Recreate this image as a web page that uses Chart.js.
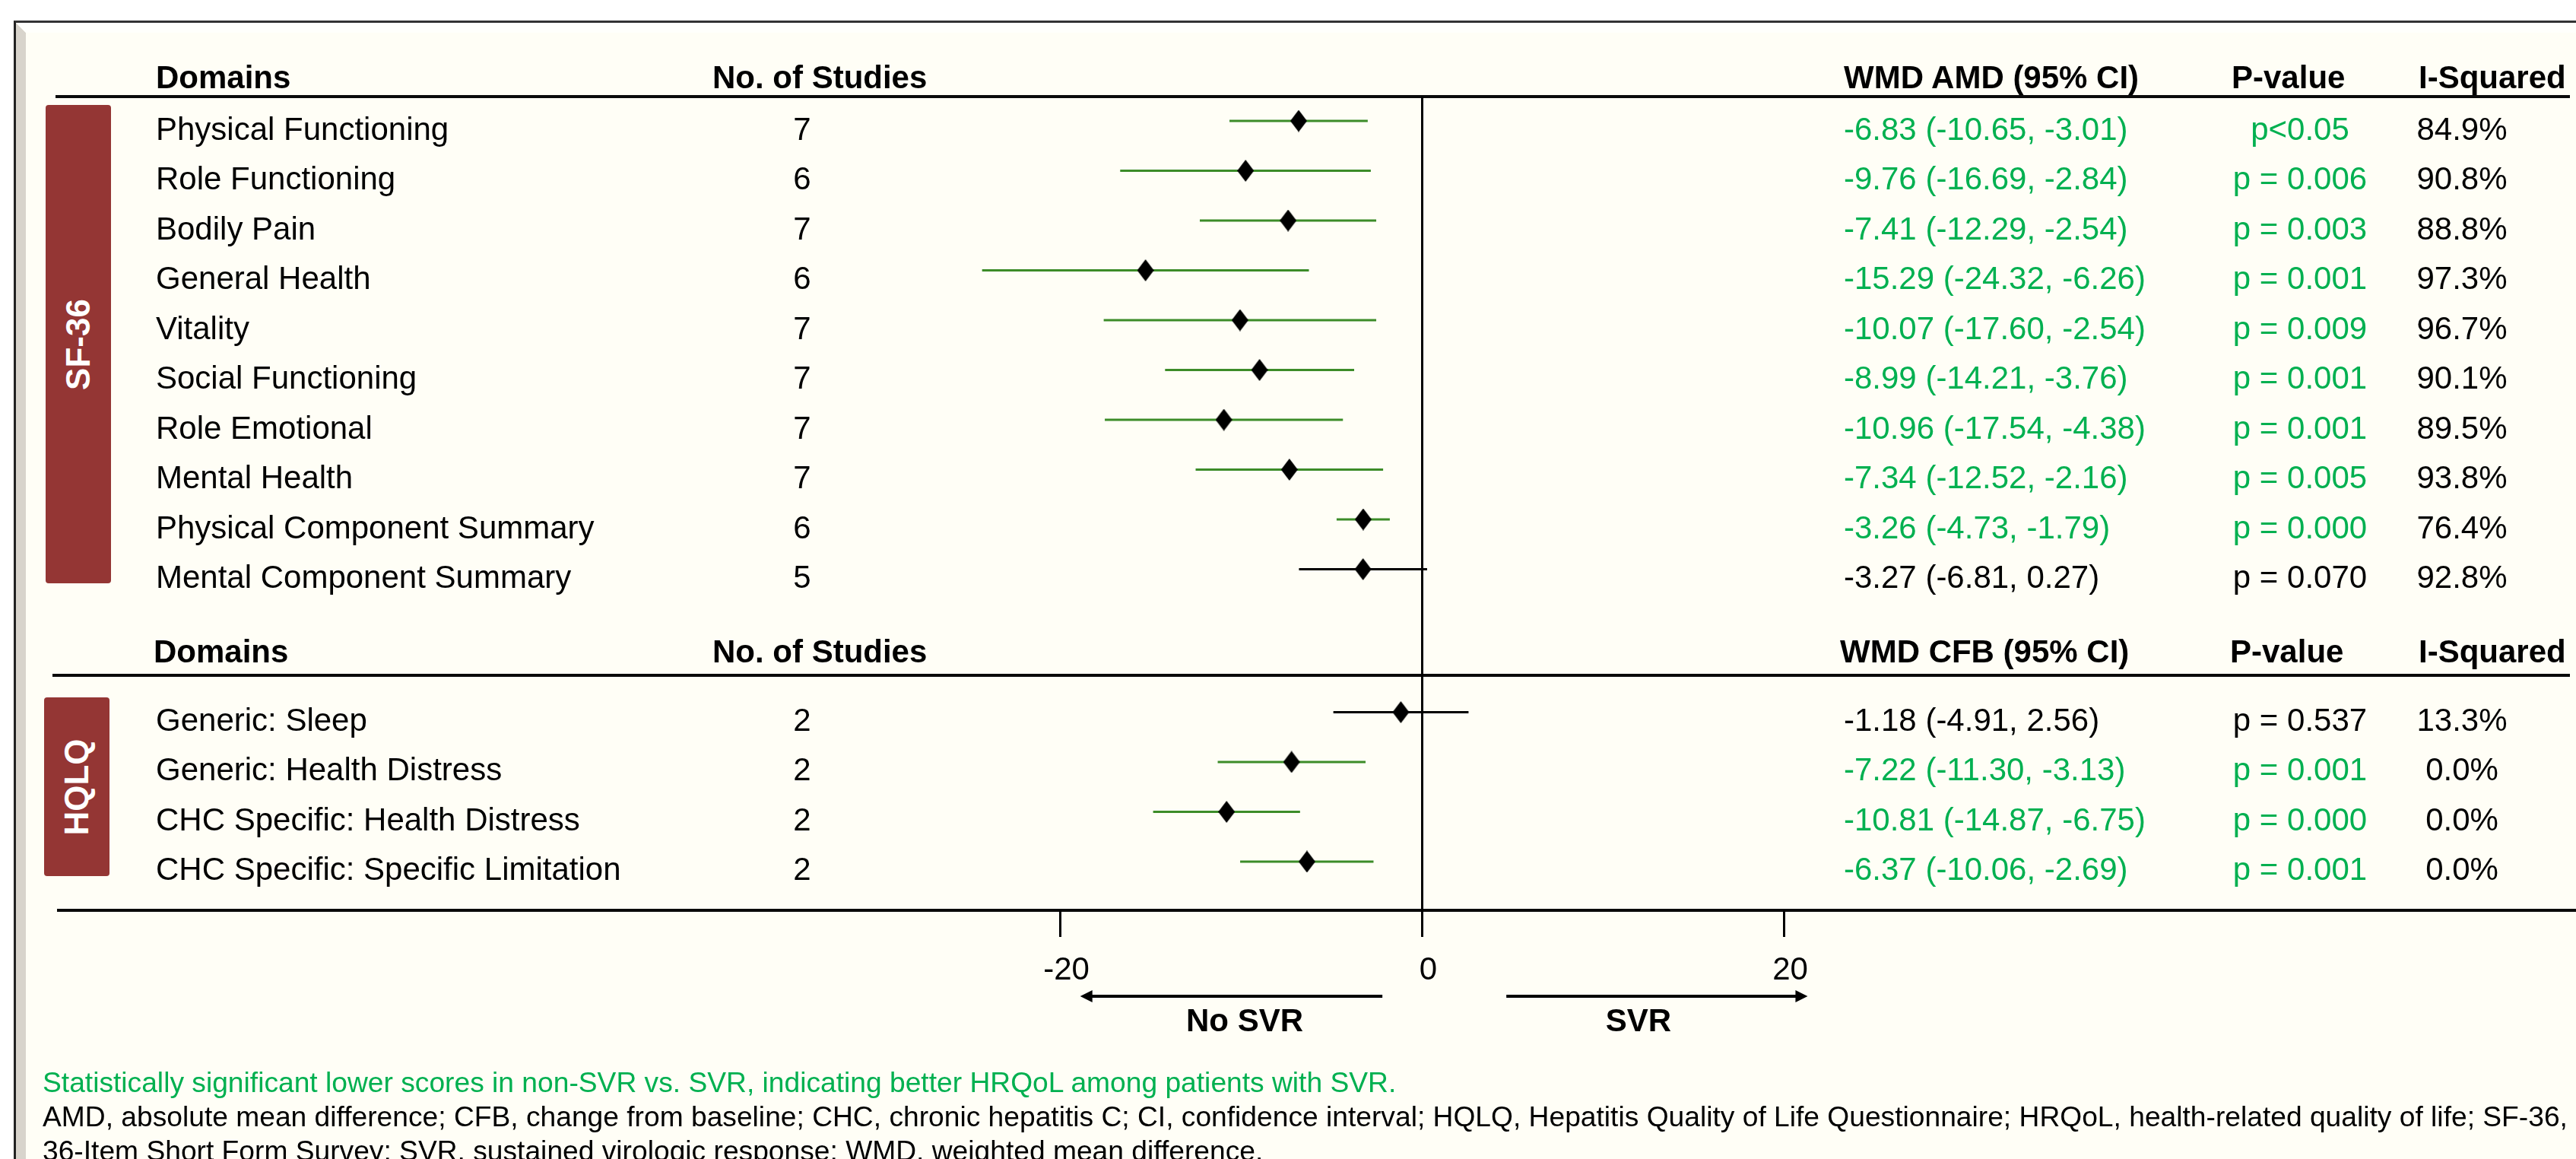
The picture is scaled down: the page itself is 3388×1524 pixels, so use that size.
<!DOCTYPE html>
<html><head><meta charset="utf-8">
<script src="https://cdn.jsdelivr.net/npm/chart.js@4.4.1/dist/chart.umd.min.js"></script>
<style>
html,body{margin:0;padding:0;background:#fff;}
body{width:3388px;height:1524px;position:relative;overflow:hidden;font-family:'Liberation Sans',Arial,Helvetica,sans-serif;}
.abs{position:absolute;}
.t{position:absolute;white-space:nowrap;font-size:42px;line-height:42px;height:42px;color:#000;}
.b{font-weight:bold;}
.c{transform:translateX(-50%);}
.g{color:#00B050;}
.hl{position:absolute;height:4px;background:#0a0a0a;}
.box{position:absolute;background:#943634;border-radius:4px;}
.boxlbl{position:absolute;white-space:nowrap;color:#fff;font-weight:bold;font-size:44px;line-height:44px;transform:translate(-50%,-50%) rotate(-90deg);}
.fn{position:absolute;white-space:nowrap;font-size:37.2px;line-height:38px;height:38px;left:56px;color:#000;}
</style></head><body>
<div class="abs" style="left:18px;top:27px;width:3370px;height:1497px;box-sizing:border-box;border-top:3px solid #333;border-left:3px solid #222;background:#FFFEF6;"></div>
<div class="abs" style="left:21px;top:30px;width:13px;height:1494px;background:#D8D4CC;clip-path:polygon(0 0,100% 13px,100% 100%,0 100%);"></div>
<div class="abs" style="left:21px;top:30px;width:3367px;height:13px;background:#FFFFFC;clip-path:polygon(0 0,100% 0,100% 100%,13px 100%);"></div>
<div class="hl" style="left:73px;top:125px;width:3307px;"></div>
<div class="hl" style="left:69px;top:886px;width:3311px;"></div>
<div class="hl" style="left:75px;top:1195px;width:3313px;"></div>
<div class="box" style="left:60px;top:138px;width:86px;height:629px;"></div>
<div class="boxlbl" style="left:103px;top:453px;">SF-36</div>
<div class="box" style="left:58px;top:917px;width:86px;height:235px;"></div>
<div class="boxlbl" style="left:101px;top:1035px;">HQLQ</div>
<canvas id="c" class="abs" width="3388" height="1524" style="left:0;top:0;"></canvas>
<div id="txt"></div>
<script>
// ---------- DATA ----------
const sf36Domains = ['Physical Functioning','Role Functioning','Bodily Pain','General Health','Vitality','Social Functioning','Role Emotional','Mental Health','Physical Component Summary','Mental Component Summary'];
const sf36Studies = [7,6,7,6,7,7,7,7,6,5];
const sf36Wmd = [-6.83,-9.76,-7.41,-15.29,-10.07,-8.99,-10.96,-7.34,-3.26,-3.27];
const sf36Lower = [-10.65,-16.69,-12.29,-24.32,-17.60,-14.21,-17.54,-12.52,-4.73,-6.81];
const sf36Upper = [-3.01,-2.84,-2.54,-6.26,-2.54,-3.76,-4.38,-2.16,-1.79,0.27];
const sf36P = ['p<0.05','p = 0.006','p = 0.003','p = 0.001','p = 0.009','p = 0.001','p = 0.001','p = 0.005','p = 0.000','p = 0.070'];
const sf36I2 = [84.9,90.8,88.8,97.3,96.7,90.1,89.5,93.8,76.4,92.8];

const hqlqDomains = ['Generic: Sleep','Generic: Health Distress','CHC Specific: Health Distress','CHC Specific: Specific Limitation'];
const hqlqStudies = [2,2,2,2];
const hqlqWmd = [-1.18,-7.22,-10.81,-6.37];
const hqlqLower = [-4.91,-11.30,-14.87,-10.06];
const hqlqUpper = [2.56,-3.13,-6.75,-2.69];
const hqlqP = ['p = 0.537','p = 0.001','p = 0.000','p = 0.001'];
const hqlqI2 = [13.3,0.0,0.0,0.0];

const xTicks = [-20,0,20];
const headers1 = ['Domains','No. of Studies','WMD AMD (95% CI)','P-value','I-Squared'];
const headers2 = ['Domains','No. of Studies','WMD CFB (95% CI)','P-value','I-Squared'];
const footGreen = 'Statistically significant lower scores in non-SVR vs. SVR, indicating better HRQoL among patients with SVR.';
const footLines = ['AMD, absolute mean difference; CFB, change from baseline; CHC, chronic hepatitis C; CI, confidence interval; HQLQ, Hepatitis Quality of Life Questionnaire; HRQoL, health-related quality of life; SF-36,','36-Item Short Form Survey; SVR, sustained virologic response; WMD, weighted mean difference.'];

// ---------- LAYOUT ----------
const GREEN_TXT = '#00B050', GREEN_LINE = '#3C8C28';
const hqlqOffset = 11.87;
const W = 3388, H = 1524;
const plotTop = 127, plotBottom = 1197, row0Pix = 159, rowStep = 65.5;
const xMin = -30, xMax = 30, zeroPix = 1870.5, pxPerUnit = 23.8;

const rows = [];
sf36Domains.forEach((d,i)=>rows.push({d, n:sf36Studies[i], w:sf36Wmd[i], lo:sf36Lower[i], hi:sf36Upper[i], p:sf36P[i], i2:sf36I2[i], pos:i}));
hqlqDomains.forEach((d,i)=>rows.push({d, n:hqlqStudies[i], w:hqlqWmd[i], lo:hqlqLower[i], hi:hqlqUpper[i], p:hqlqP[i], i2:hqlqI2[i], pos:hqlqOffset+i}));
const sig = r => r.hi < 0;

// diamond marker
const dia = document.createElement('canvas');
dia.width = 22; dia.height = 29;
const dc = dia.getContext('2d');
dc.fillStyle = '#000'; dc.beginPath();
dc.moveTo(11,0); dc.lineTo(22,14.5); dc.lineTo(11,29); dc.lineTo(0,14.5); dc.closePath(); dc.fill();

Chart.defaults.font.family = "'Liberation Sans', Arial, Helvetica, sans-serif";

const datasets = [{
  label:'WMD', data: rows.map(r=>({x:r.w, y:r.pos})),
  pointStyle: dia, pointRadius: 11, showLine:false, order:0
}];
rows.forEach(r=>{
  datasets.push({
    label:'CI', data:[{x:r.lo,y:r.pos},{x:r.hi,y:r.pos}], showLine:true,
    borderColor: sig(r) ? GREEN_LINE : '#000', borderWidth:3, pointRadius:0, order:1
  });
});

const arrowSpans = {noSvr:[-18.9,-2.2], svr:[4.65,21.3]};
const arrowPlugin = {
  id:'arrows',
  afterDraw(chart){
    const ctx = chart.ctx, xs = chart.scales.x, y = 1310;
    ctx.save(); ctx.strokeStyle = '#000'; ctx.fillStyle = '#000'; ctx.lineWidth = 4;
    const a = xs.getPixelForValue(arrowSpans.noSvr[0]), b = xs.getPixelForValue(arrowSpans.noSvr[1]);
    ctx.beginPath(); ctx.moveTo(a+10,y); ctx.lineTo(b,y); ctx.stroke();
    ctx.beginPath(); ctx.moveTo(a,y); ctx.lineTo(a+16,y-8); ctx.lineTo(a+16,y+8); ctx.closePath(); ctx.fill();
    const c = xs.getPixelForValue(arrowSpans.svr[0]), d = xs.getPixelForValue(arrowSpans.svr[1]);
    ctx.beginPath(); ctx.moveTo(c,y); ctx.lineTo(d-10,y); ctx.stroke();
    ctx.beginPath(); ctx.moveTo(d,y); ctx.lineTo(d-16,y-8); ctx.lineTo(d-16,y+8); ctx.closePath(); ctx.fill();
    ctx.restore();
  }
};

const padLeft = zeroPix + xMin*pxPerUnit;
const padRight = W - (zeroPix + xMax*pxPerUnit);
const yMin = (plotTop - row0Pix)/rowStep, yMax = (plotBottom - row0Pix)/rowStep;

const chart = new Chart(document.getElementById('c'), {
  type:'scatter',
  data:{datasets},
  plugins:[arrowPlugin],
  options:{
    responsive:false, devicePixelRatio:1, animation:false, events:[],
    layout:{padding:{left:padLeft, right:padRight, top:plotTop, bottom:0}},
    plugins:{legend:{display:false}, tooltip:{enabled:false}},
    scales:{
      x:{type:'linear', min:xMin, max:xMax, position:'bottom',
        afterBuildTicks: s => { s.ticks = xTicks.map(v=>({value:v})); },
        afterFit: s => { s.height = H - plotBottom; },
        grid:{color: c => (c.tick && c.tick.value === 0) ? '#000' : 'rgba(0,0,0,0)', lineWidth:3, tickLength:35, tickColor:'#000', drawOnChartArea:true},
        border:{display:false},
        ticks:{color:'#000', font:{size:42}, padding:19, labelOffset:8, maxRotation:0, autoSkip:false, callback:v=>String(v)}
      },
      y:{type:'linear', reverse:true, min:yMin, max:yMax, display:false}
    }
  }
});

// ---------- TEXT ----------
const box = document.getElementById('txt');
function addText(str, x, cy, cls){
  const el = document.createElement('div');
  el.className = 't ' + (cls||'');
  el.textContent = str;
  el.style.left = x + 'px';
  el.style.top = (cy - 21) + 'px';
  box.appendChild(el);
  return el;
}
const ys = chart.scales.y;
// headers
[[headers1,102,[205,937,2425,2935,3181]],[headers2,857,[202,937,2420,2933,3181]]].forEach(([hs,cy,xs])=>{
  hs.forEach((h,i)=>addText(h, xs[i], cy, 'b'));
});
rows.forEach(r=>{
  const cy = ys.getPixelForValue(r.pos) + 10.5;
  const g = sig(r) ? 'g' : '';
  addText(r.d, 205, cy, '');
  addText(String(r.n), 1055, cy, 'c');
  addText(`${r.w.toFixed(2)} (${r.lo.toFixed(2)}, ${r.hi.toFixed(2)})`, 2425, cy, g);
  addText(r.p, 3025, cy, 'c ' + g);
  addText(r.i2.toFixed(1) + '%', 3238, cy, 'c');
});
addText('No SVR', 1637, 1342, 'b c');
addText('SVR', 2155, 1342, 'b c');
// footnotes
function addFoot(str, cy, color){
  const el = document.createElement('div');
  el.className = 'fn'; el.textContent = str; el.style.top = (cy-19)+'px';
  if (color) el.style.color = color;
  box.appendChild(el);
}
addFoot(footGreen, 1423, GREEN_TXT);
addFoot(footLines[0], 1468);
addFoot(footLines[1], 1513);
</script>
</body></html>
